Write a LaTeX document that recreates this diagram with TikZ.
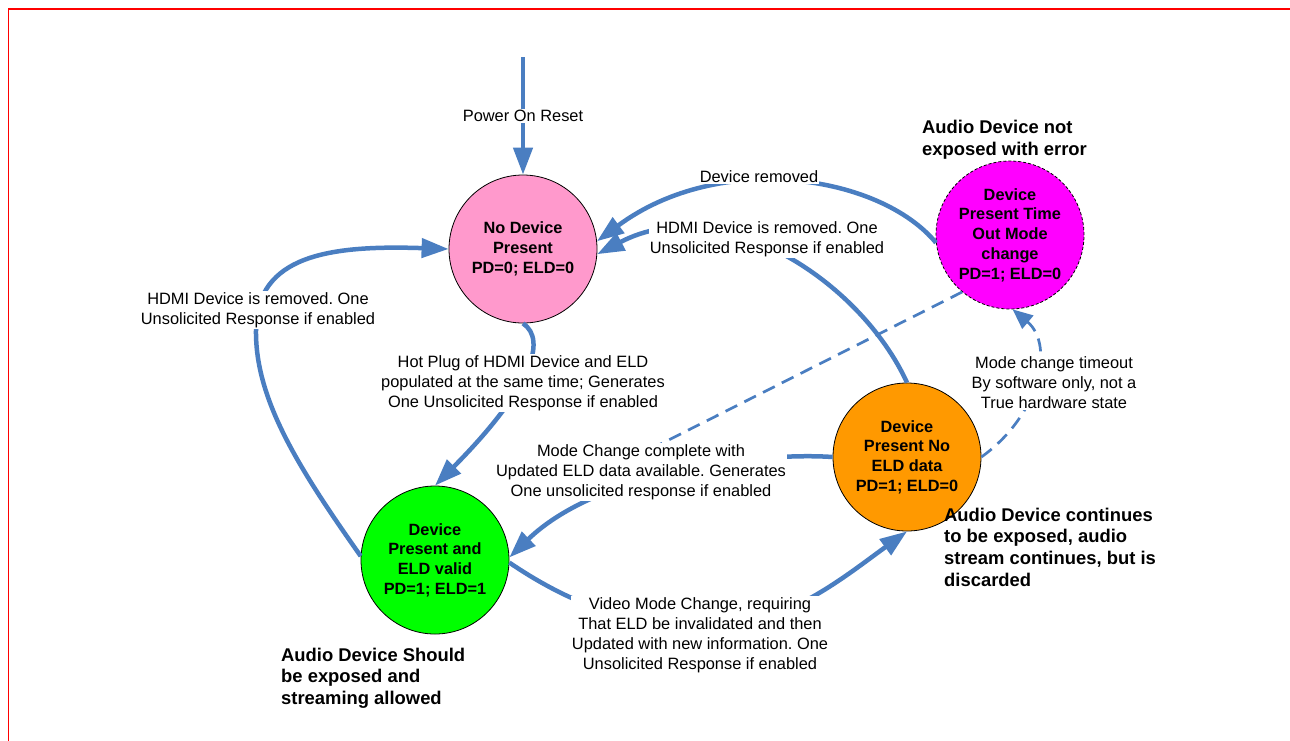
\documentclass[tikz,border=0pt]{standalone}
\usepackage{fontspec}
\setmainfont{Liberation Sans}
\usetikzlibrary{arrows.meta}
\definecolor{lineblue}{RGB}{74,126,193}
\definecolor{pinkfill}{RGB}{255,153,204}
\definecolor{magentafill}{RGB}{255,0,255}
\definecolor{orangefill}{RGB}{255,153,0}
\definecolor{greenfill}{RGB}{0,255,0}
\definecolor{framered}{RGB}{255,0,0}
\frenchspacing
\begin{document}
\begin{tikzpicture}[x=1pt,y=-1pt,
  state/.style={circle, draw=black, line width=0.8pt, minimum size=148pt, inner sep=0pt, align=center,
    font=\bfseries\fontsize{16.3}{19.7}\selectfont},
  conn/.style={draw=lineblue, line width=4.5pt, -{Triangle[length=27pt,width=19pt]}},
  dashconn/.style={draw=lineblue, line width=2.7pt, dash pattern=on 13pt off 8pt},
  lbl/.style={fill=white, inner sep=1pt, align=center, font=\fontsize{16.4}{20}\selectfont},
  note/.style={anchor=west, inner sep=0pt, align=left, font=\bfseries\fontsize{18.4}{21.7}\selectfont}
]
\useasboundingbox (0,0) rectangle (1290,740);
\fill[white] (0,0) rectangle (1290,740);
% frame
\draw[framered, line width=2.5pt] (8,9) -- (1295,9);
\draw[framered, line width=1.5pt] (8.5,8) -- (8.5,745);

% states
\node[state, fill=pinkfill] (nodev) at (523,249) {No Device\\Present\\PD=0; ELD=0};
\node[state, fill=magentafill, dash pattern=on 3pt off 2pt] (timeout) at (1010,235) {Device\\Present Time\\Out Mode\\change\\PD=1; ELD=0};
\node[state, fill=orangefill] (noeld) at (907,457) {Device\\Present No\\ELD data\\PD=1; ELD=0};
\node[state, fill=greenfill] (valid) at (435,560) {Device\\Present and\\ELD valid\\PD=1; ELD=1};

% connectors
\coordinate (reset) at (523,57);
\draw[conn] (reset) -- (nodev.north);
\draw[conn] (timeout.186) .. controls (880,175) and (720,150) .. (nodev.6);
\draw[conn] (noeld.north) .. controls (860,280) and (720,190) .. (nodev.-4);
\draw[conn] (valid.177) .. controls (300,470) and (255,400) .. (256,330)
   .. controls (256,255) and (330,245) .. (nodev.west);
\draw[conn] (nodev.south) .. controls (548,340) and (530,390) .. (valid.north);
\coordinate (mcend) at (625,462);
\draw[dashconn] (timeout.230) -- (mcend);
\draw[conn] (noeld.west) .. controls (760,452) and (600,470) .. (valid.2);
\draw[conn] (valid.-2) .. controls (560,597) and (620,625) .. (700,628)
   .. controls (780,630) and (840,580) .. (noeld.south);
\draw[dashconn, -{Triangle[length=20pt,width=17pt]}] (noeld.east) .. controls (1040,415) and (1055,345) .. (timeout.-88);

% labels
\node[lbl] (lreset) at (523,116) {Power On Reset};
\node[lbl] (lremoved) at (759,177) {Device removed};
\node[lbl] (lhdmitop) at (767,239) {HDMI Device is removed. One\\Unsolicited Response if enabled};
\node[lbl] (lhdmileft) at (258,310) {HDMI Device is removed. One\\Unsolicited Response if enabled};
\node[lbl] (lhot) at (523,383) {Hot Plug of HDMI Device and ELD\\populated at the same time; Generates\\One Unsolicited Response if enabled};
\node[lbl] (lmode) at (641,472) {Mode Change complete with\\Updated ELD data available. Generates\\One unsolicited response if enabled};
\node[lbl] (ltimeout) at (1054,383) {Mode change timeout\\By software only, not a\\True hardware state};
\node[lbl] (lvideo) at (700,635) {Video Mode Change, requiring\\That ELD be invalidated and then\\Updated with new information. One\\Unsolicited Response if enabled};

% notes
\node[note] (n1) at (922,140) {Audio Device not\\exposed with error};
\node[note] (n2) at (944,547) {Audio Device continues\\to be exposed, audio\\stream continues, but is\\discarded};
\node[note] (n3) at (281,678) {Audio Device Should\\be exposed and\\streaming allowed};
\end{tikzpicture}
\end{document}
